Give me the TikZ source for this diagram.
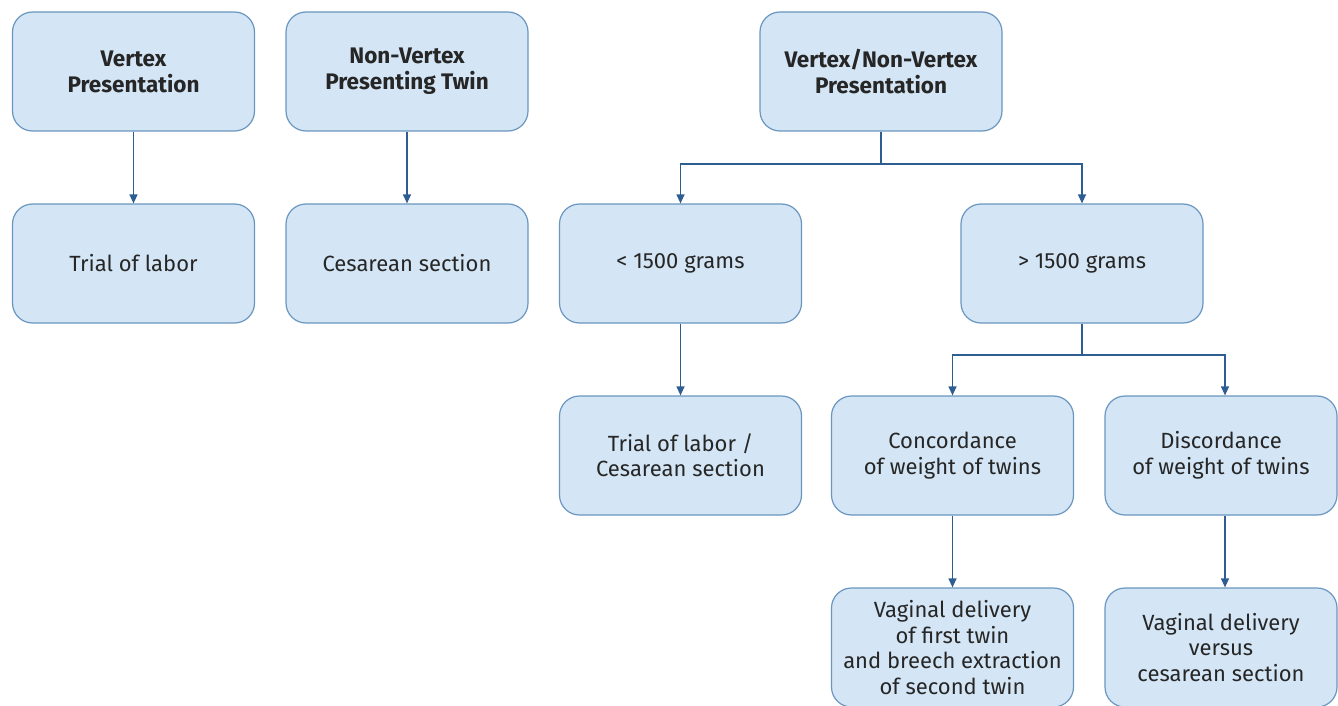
\documentclass[tikz,border=0pt]{standalone}
\usepackage{fontspec}
\setmainfont{Fira Sans}
\usetikzlibrary{arrows.meta}
\definecolor{boxfill}{HTML}{D4E6F5}
\definecolor{boxdraw}{HTML}{6A96C0}
\definecolor{arr}{HTML}{2E5E91}
\tikzset{
  box/.style={draw=boxdraw, line width=1.2pt, fill=boxfill, rounded corners=20pt,
    minimum width=242pt, minimum height=119pt, align=center, inner sep=0pt,
    font=\fontsize{22}{25.5}\selectfont, text=black!85},
  hd/.style={font=\fontsize{22.5}{26}\selectfont\bfseries},
  conn/.style={draw=arr, line width=1.2pt, -{Triangle[length=9pt,width=8pt]}},
  plain/.style={draw=arr, line width=1.2pt}
}
\begin{document}
\begin{tikzpicture}[x=1pt,y=-1pt]
\useasboundingbox (0,0) rectangle (1338,706);
\clip (0,0) rectangle (1338,706);
\fill[white] (0,0) rectangle (1338,706);
% row 1
\node[box,hd] (vp) at (133.5,71.5) {Vertex\\Presentation};
\node[box,hd] (nv) at (407,71.5) {Non-Vertex\\Presenting Twin};
\node[box,hd] (vn) at (881,71.5) {Vertex/Non-Vertex\\Presentation};
% row 2
\node[box] (tl) at (133.5,263.5) {Trial of labor};
\node[box] (cs) at (407,263.5) {Cesarean section};
\node[box] (lt) at (680.5,263.5) {< 1500 grams};
\node[box] (gt) at (1082,263.5) {> 1500 grams};
% row 3
\node[box] (tc) at (680.5,455.5) {Trial of labor /\\Cesarean section};
\node[box] (co) at (952.5,455.5) {Concordance\\of weight of twins};
\node[box,minimum width=232pt] (di) at (1221,455.5) {Discordance\\of weight of twins};
% row 4
\node[box] (vd1) at (952.5,647.5) {Vaginal delivery\\of first twin\\and breech extraction\\of second twin};
\node[box,minimum width=232pt] (vd2) at (1221,647.5) {Vaginal delivery\\versus\\cesarean section};
% connectors
\draw[conn] (vp) -- (tl);
\draw[conn] (nv) -- (cs);
\coordinate (j1) at (881,164);
\draw[plain] (vn.south) -- (j1);
\draw[conn] (j1) -| (lt.north);
\draw[conn] (j1) -| (gt.north);
\coordinate (j2) at (1082,355);
\draw[plain] (gt.south) -- (j2);
\draw[conn] (j2) -| (co.north);
\draw[conn] (j2) -| ([xshift=4pt]di.north);
\draw[conn] (lt) -- (tc);
\draw[conn] (co) -- (vd1);
\draw[conn] ([xshift=4pt]di.south) -- ([xshift=4pt]vd2.north);
\end{tikzpicture}
\end{document}
